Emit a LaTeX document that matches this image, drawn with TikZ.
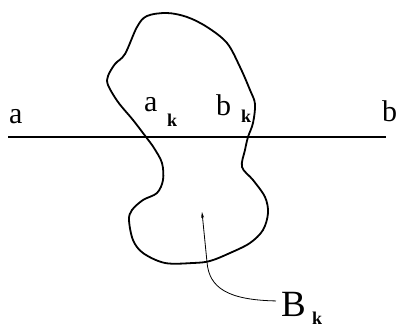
\documentclass[tikz,border=0pt]{standalone}
\usepackage{fontspec}
\setmainfont{Liberation Serif}
\usetikzlibrary{arrows.meta}
\begin{document}
\begin{tikzpicture}[x=1pt,y=-1pt,
  lbl/.style={inner sep=0pt,anchor=base west,font=\fontsize{30}{30}\selectfont},
  sub/.style={inner sep=0pt,anchor=base west,font=\bfseries\fontsize{18}{18}\selectfont},
  blob/.style={line width=1.8pt},
  axis/.style={line width=2.2pt},
  leader/.style={line width=0.8pt}]
\useasboundingbox (0,0) rectangle (397,329);
\coordinate (L) at (8,137);
\coordinate (R) at (386,137);
\draw[axis] (L) -- (R);
\draw[blob] plot[smooth cycle,tension=0.55] coordinates {
 (146,137) (133,120) (118,102) (108,85) (108,76) (115,64) (125,54)
 (137,27) (147,16) (167,13) (187,17) (207,27) (227,43) (240,67)
 (250,90) (255,104) (253,123) (248,137) (245,150) (242,167) (253,180)
 (265,197) (268,213) (263,230) (250,243) (230,253) (210,261) (193,263)
 (165,263) (143,253) (133,240) (129,220) (132,210) (143,200) (157,193)
 (163,180) (162,163) (154,148)};
\node[lbl] (a) at (9,124) {a};
\node[lbl] (ak) at (144,112) {a};
\node[sub] (aks) at (167,127) {k};
\node[lbl] (bk) at (216,116) {b};
\node[sub] (bks) at (241,123) {k};
\node[lbl] (b) at (382,122) {b};
\node[inner sep=0pt,anchor=base west,font=\fontsize{37}{37}\selectfont] (B) at (281,316) {B};
\node[sub] (Bs) at (312,324) {k};
\coordinate (tip) at (202,212);
\draw[leader,-{Stealth[length=6pt,width=3pt]}] (B.west) ++(-5,-3) coordinate (lst)
  .. controls (228,300) and (209,288) .. (207,262) -- (tip);
\end{tikzpicture}
\end{document}
